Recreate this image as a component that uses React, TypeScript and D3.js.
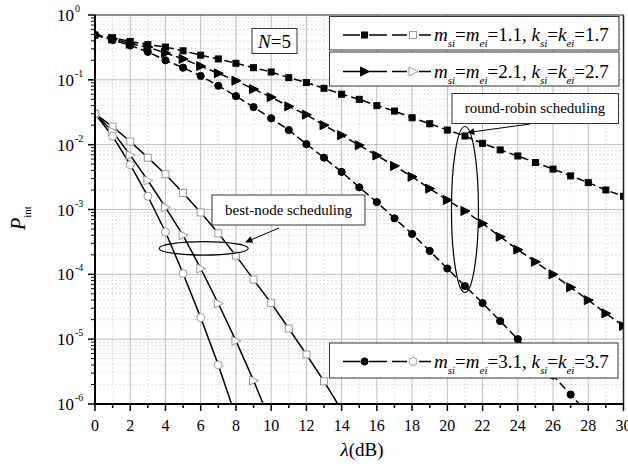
import * as d3 from 'd3';

// lambda (dB) values, one point per dB
const lambdaRR = d3.range(0, 31);
const rrSquare = [0.49, 0.447, 0.39, 0.35, 0.32, 0.28, 0.24, 0.21, 0.18, 0.154, 0.132, 0.108, 0.091, 0.074, 0.06, 0.05, 0.04, 0.033, 0.026, 0.021, 0.0168, 0.0136, 0.0105, 0.0083, 0.0067, 0.0053, 0.0042, 0.0033, 0.0026, 0.002, 0.0016];
const rrTriangle = [0.49, 0.43, 0.36, 0.32, 0.26, 0.21, 0.163, 0.126, 0.097, 0.072, 0.054, 0.039, 0.029, 0.02, 0.014, 0.0098, 0.0068, 0.0047, 0.0032, 0.0021, 0.0014, 0.00095, 0.00061, 0.00038, 0.00024, 0.000156, 0.0001, 6.3e-5, 4e-5, 2.5e-5, 1.6e-5];
const rrCircle = [0.49, 0.41, 0.34, 0.27, 0.2, 0.154, 0.115, 0.081, 0.056, 0.038, 0.0255, 0.0168, 0.0102, 0.0063, 0.0038, 0.0022, 0.0013, 0.00073, 0.00042, 0.00023, 0.000123, 6.6e-5, 3.6e-5, 1.9e-5, 1.0e-5, 5.2e-6, 2.75e-6, 1.4e-6, 7e-7];
const bnSquare = [0.03, 0.019, 0.0112, 0.0063, 0.0035, 0.0018, 0.0009, 0.00043, 0.000194, 8.3e-5, 3.6e-5, 1.46e-5, 5.8e-6, 2.24e-6, 8e-7];
const bnTriangle = [0.03, 0.016, 0.0069, 0.0028, 0.00108, 0.0004, 0.000123, 3.55e-5, 9.4e-6, 2.3e-6, 5e-7];
const bnCircle = [0.03, 0.0135, 0.0049, 0.0016, 0.00045, 0.000103, 2.15e-5, 4e-6, 6.3e-7];

const xTicks = d3.range(0, 31, 2);
const yExponents = [0, -1, -2, -3, -4, -5, -6];
const legendRows = [
  { shape: 'square', m: '1.1', k: '1.7' },
  { shape: 'triangle', m: '2.1', k: '2.7' },
  { shape: 'circle', m: '3.1', k: '3.7' },
];

const FONT = "'Times New Roman', Times, 'Liberation Serif', 'DejaVu Serif', 'Noto Serif', serif";

const Marker = ({ shape, cx, cy, filled }: { shape: string; cx: number; cy: number; filled: boolean }) => {
  const fill = filled ? '#000' : '#fff';
  const stroke = filled ? '#000' : '#9a9a9a';
  if (shape === 'square') {
    const s = filled ? 6 : 7;
    return <rect x={cx - s / 2} y={cy - s / 2} width={s} height={s} fill={fill} stroke={stroke} strokeWidth={1} />;
  }
  if (shape === 'circle') {
    return <circle cx={cx} cy={cy} r={filled ? 3.6 : 4} fill={fill} stroke={stroke} strokeWidth={1} />;
  }
  const pts = [[cx - 4, cy - 4.5], [cx + 5, cy], [cx - 4, cy + 4.5]].map(p => p.join(',')).join(' ');
  return <polygon points={pts} fill={fill} stroke={stroke} strokeWidth={1} />;
};

export default function App() {
  const width = 628, height = 466;
  const left = 95, right = 623.5, top = 15, bottom = 404;
  const x = d3.scaleLinear().domain([0, 30]).range([left, right]);
  const y = d3.scaleLog().domain([1e-6, 1]).range([bottom, top]);

  const line = d3.line<[number, number]>().x(d => x(d[0])).y(d => y(d[1]));

  const rrSeries = [
    { shape: 'square', data: rrSquare },
    { shape: 'triangle', data: rrTriangle },
    { shape: 'circle', data: rrCircle },
  ];
  const bnSeries = [
    { shape: 'square', data: bnSquare },
    { shape: 'triangle', data: bnTriangle },
    { shape: 'circle', data: bnCircle },
  ];

  const minorY: number[] = [];
  for (let e = -6; e < 0; e++) for (let k = 2; k <= 9; k++) minorY.push(k * Math.pow(10, e));
  const minorX = d3.range(1, 30, 2);

  const legendBoxes = [
    { y0: 16.5, y1: 50, base: 41, my: 35, x1: 619 },
    { y0: 52, y1: 86, base: 78, my: 71.5, x1: 619 },
    { y0: 343, y1: 378, base: 368, my: 361.5, x1: 618 },
  ];

  return (
    <div style={{ position: 'absolute', left: 0, top: 0 }}>
      <svg width={width} height={height} style={{ display: 'block', background: '#fff', fontFamily: FONT }}>
        <defs>
          <clipPath id="plot">
            <rect x={left} y={top} width={right - left} height={bottom - top} />
          </clipPath>
          <marker id="arrow" viewBox="0 0 10 10" refX="9" refY="5" markerWidth="9" markerHeight="7" orient="auto" markerUnits="userSpaceOnUse">
            <path d="M0,0 L10,5 L0,10 z" fill="#000" />
          </marker>
        </defs>

        {/* minor grid */}
        {minorX.map(v => (
          <line key={'mx' + v} x1={x(v)} x2={x(v)} y1={top} y2={bottom} stroke="#d6d6d6" strokeDasharray="2,2" strokeWidth={0.8} />
        ))}
        {minorY.map(v => (
          <line key={'my' + v} x1={left} x2={right} y1={y(v)} y2={y(v)} stroke="#d6d6d6" strokeDasharray="2,2" strokeWidth={0.8} />
        ))}
        {/* major grid */}
        {xTicks.slice(1, -1).map(v => (
          <line key={'gx' + v} x1={x(v)} x2={x(v)} y1={top} y2={bottom} stroke="#bdbdbd" strokeWidth={1} />
        ))}
        {yExponents.slice(1, -1).map(e => (
          <line key={'gy' + e} x1={left} x2={right} y1={y(Math.pow(10, e))} y2={y(Math.pow(10, e))} stroke="#bdbdbd" strokeWidth={1} />
        ))}

        {/* data */}
        <g clipPath="url(#plot)">
          {rrSeries.map(s => (
            <path key={'rr' + s.shape} d={line(s.data.map((v, i) => [lambdaRR[i], v]))!} fill="none" stroke="#000" strokeWidth={1.5} strokeDasharray="8,4" />
          ))}
          {bnSeries.map(s => (
            <path key={'bn' + s.shape} d={line(s.data.map((v, i) => [lambdaRR[i], v]))!} fill="none" stroke="#000" strokeWidth={1.5} />
          ))}
          {rrSeries.map(s => s.data.map((v, i) => (
            <Marker key={'rrm' + s.shape + i} shape={s.shape} cx={x(lambdaRR[i])} cy={y(v)} filled />
          )))}
          {bnSeries.map(s => s.data.map((v, i) => (
            <Marker key={'bnm' + s.shape + i} shape={s.shape} cx={x(lambdaRR[i])} cy={y(v)} filled={false} />
          )))}
        </g>

        {/* frame */}
        <line x1={left} x2={right} y1={top} y2={top} stroke="#222" strokeWidth={1.2} />
        <line x1={right} x2={right} y1={top} y2={bottom} stroke="#222" strokeWidth={1.5} />
        <line x1={left} x2={left} y1={top} y2={bottom + 1} stroke="#000" strokeWidth={2} />
        <line x1={left - 1} x2={right} y1={bottom} y2={bottom} stroke="#000" strokeWidth={2} />

        {/* x ticks */}
        {xTicks.map(v => (
          <g key={'xt' + v}>
            <line x1={x(v)} x2={x(v)} y1={bottom} y2={bottom + 7} stroke="#000" strokeWidth={1.5} />
            <text x={x(v)} y={431} textAnchor="middle" fontSize={16}>{v}</text>
          </g>
        ))}
        {minorX.map(v => (
          <line key={'xm' + v} x1={x(v)} x2={x(v)} y1={bottom} y2={bottom + 4} stroke="#000" strokeWidth={1.5} />
        ))}
        {/* y ticks */}
        {yExponents.map(e => (
          <g key={'yt' + e}>
            <line x1={left - 7} x2={left} y1={y(Math.pow(10, e))} y2={y(Math.pow(10, e))} stroke="#000" strokeWidth={1.5} />
            <text x={left - 21} y={y(Math.pow(10, e)) + 6} textAnchor="end" fontSize={17}>10</text>
            <text x={left - 20} y={y(Math.pow(10, e)) - 3} textAnchor="start" fontSize={10}>{e === 0 ? '0' : '-' + Math.abs(e)}</text>
          </g>
        ))}
        {minorY.map(v => (
          <line key={'ym' + v} x1={left - 4} x2={left} y1={y(v)} y2={y(v)} stroke="#000" strokeWidth={1} />
        ))}

        {/* axis titles */}
        <text transform="translate(25,218) rotate(-90)" fontSize={20} textAnchor="middle">
          <tspan fontStyle="italic">P</tspan>
          <tspan fontSize={11} dy={6}>int</tspan>
        </text>
        <text x={362} y={456} textAnchor="middle" fontSize={19}>
          <tspan fontStyle="italic">λ</tspan>(dB)
        </text>

        {/* N=5 */}
        <rect x={252} y={28.5} width={45} height={25} fill="#fff" stroke="#333" strokeWidth={1} />
        <text x={274.5} y={47.5} textAnchor="middle" fontSize={19}>
          <tspan fontStyle="italic">N</tspan>=5
        </text>

        {/* legend */}
        {legendRows.map((r, i) => {
          const b = legendBoxes[i];
          return (
            <g key={'lg' + i}>
              <rect x={329.5} y={b.y0} width={b.x1 - 329.5} height={b.y1 - b.y0} fill="#fff" stroke="#333" strokeWidth={1} />
              {[[343, 360], [369, 387], [392, 407], [419, 431]].map(([a, c], j) => (
                <line key={j} x1={a} x2={c} y1={b.my} y2={b.my} stroke="#000" strokeWidth={1.5} />
              ))}
              <Marker shape={r.shape} cx={364.5} cy={b.my} filled />
              <Marker shape={r.shape} cx={413} cy={b.my} filled={false} />
              <text x={434} y={b.base} fontSize={19}>
                <tspan fontStyle="italic">m</tspan>
                <tspan fontStyle="italic" fontSize={11} dy={6}>si</tspan>
                <tspan dy={-6}>=</tspan>
                <tspan fontStyle="italic">m</tspan>
                <tspan fontStyle="italic" fontSize={11} dy={6}>ei</tspan>
                <tspan dy={-6}>={r.m}, </tspan>
                <tspan fontStyle="italic">k</tspan>
                <tspan fontStyle="italic" fontSize={11} dy={6}>si</tspan>
                <tspan dy={-6}>=</tspan>
                <tspan fontStyle="italic">k</tspan>
                <tspan fontStyle="italic" fontSize={11} dy={6}>ei</tspan>
                <tspan dy={-6}>={r.k}</tspan>
              </text>
            </g>
          );
        })}

        {/* round-robin annotation */}
        <ellipse cx={x(21)} cy={y(Math.pow(10, -3.0))} rx={13.5} ry={83} fill="none" stroke="#000" strokeWidth={1.2} />
        <rect x={452} y={93.5} width={166.5} height={30} fill="#fff" stroke="#333" strokeWidth={1} />
        <text x={535} y={113} textAnchor="middle" fontSize={15}>round-robin scheduling</text>
        <line x1={530} y1={124} x2={468} y2={132.5} stroke="#000" strokeWidth={1} markerEnd="url(#arrow)" />

        {/* best-node annotation */}
        <ellipse cx={x(6.17)} cy={y(Math.pow(10, -3.6))} rx={44.5} ry={6.8} fill="none" stroke="#000" strokeWidth={1.2} />
        <rect x={212} y={195} width={153} height={30} fill="#fff" stroke="#333" strokeWidth={1} />
        <text x={288.5} y={215} textAnchor="middle" fontSize={15}>best-node scheduling</text>
        <line x1={279} y1={228} x2={246} y2={242} stroke="#000" strokeWidth={1} markerEnd="url(#arrow)" />
      </svg>
    </div>
  );
}
